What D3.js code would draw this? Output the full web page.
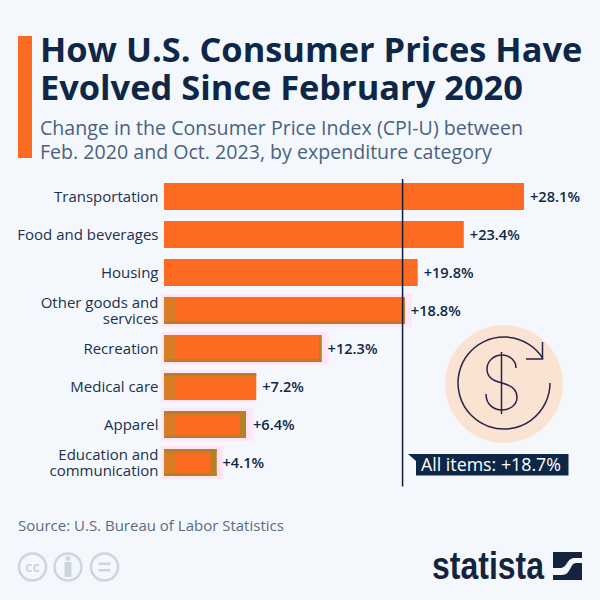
<!DOCTYPE html>
<html><head><meta charset="utf-8">
<script src="https://cdn.jsdelivr.net/npm/d3@7"></script>
<style>html,body{margin:0;padding:0;background:#f4f8fc}svg{display:block}text{font-family:"Open Sans",sans-serif}</style>
</head><body><svg id="c" width="600" height="600"></svg>
<script>
const categories=[["Transportation"],["Food and beverages"],["Housing"],["Other goods and","services"],["Recreation"],["Medical care"],["Apparel"],["Education and","communication"]];
const values=[28.1,23.4,19.8,18.8,12.3,7.2,6.4,4.1];
const valueLabels=["+28.1%","+23.4%","+19.8%","+18.8%","+12.3%","+7.2%","+6.4%","+4.1%"];
const allItems=18.7;
const titleLines=["How U.S. Consumer Prices Have","Evolved Since February 2020"];
const subtitleLines=["Change in the Consumer Price Index (CPI-U) between","Feb. 2020 and Oct. 2023, by expenditure category"];
const bandEdges=["","","","lbr","lbr","lt","ltbr","ltbr"];
const navy="#0f2747",orange="#fd6a21",olive="#b5802a";
const svg=d3.select("#c");
const xScale=d3.scaleLinear().domain([0,28.1]).range([164,524]);
const yScale=d3.scaleBand().domain(d3.range(values.length)).range([183,476]).paddingInner(11/38).paddingOuter(0);
const bh=yScale.bandwidth();

svg.append("rect").attr("x",18).attr("y",36).attr("width",14).attr("height",122).attr("fill",orange);
svg.selectAll(".t").data(titleLines).join("text").attr("class","t").attr("x",40).attr("y",(d,i)=>62+i*38)
 .attr("font-size",34.4).attr("font-weight",700).attr("fill",navy).text(d=>d);
svg.selectAll(".s").data(subtitleLines).join("text").attr("class","s").attr("x",40).attr("y",(d,i)=>135+i*24)
 .attr("font-size",19.6).attr("fill","#4a6280").text(d=>d);

const rows=svg.selectAll(".row").data(values).join("g").attr("class","row");
rows.each(function(v,i){
 const g=d3.select(this),t=yScale(i),x0=xScale(0),w=xScale(v)-x0,e=bandEdges[i];
 if(e) g.append("rect").attr("x",x0-3).attr("y",t-3).attr("width",w+(i==5?3:10)).attr("height",bh+6).attr("fill","#fde6f5");
 g.append("rect").attr("x",x0).attr("y",t).attr("width",w).attr("height",bh).attr("fill",orange);
 if(e){
  const band=(a,b,c,d,col)=>g.append("rect").attr("x",a).attr("y",b).attr("width",c).attr("height",d).attr("fill",col||olive);
  band(x0,t,12,bh,"#d87d26");
  if(e.includes("t")) band(x0,t,w,3.5);
  if(e.includes("b")) band(x0,t+bh-3,w,3);
  if(e.includes("r")) band(xScale(v)-(i>=6?6:2.5),t,i>=6?6:2.5,bh);
 }
 const lines=categories[i];
 const cy=t+bh/2;
 lines.forEach((l,j)=>g.append("text").attr("x",158.5).attr("y",cy+5.2+(j-(lines.length-1)/2)*16)
   .attr("text-anchor","end").attr("font-size",15).attr("fill","#22304d").text(l));
 g.append("text").attr("x",xScale(v)+(i==6?7:6)).attr("y",cy+5.3).attr("font-size",14.6).attr("font-weight",600)
   .attr("fill",navy).text(valueLabels[i]);
});

svg.append("line").attr("x1",xScale(allItems)-1).attr("x2",xScale(allItems)-1).attr("y1",179).attr("y2",486.5).attr("stroke","#141c38").attr("stroke-width",1.5);

// tag
svg.append("path").attr("d","M408 454H568.5V475.5H416V461Z").attr("fill",navy);
svg.append("text").attr("x",421).attr("y",470.5).attr("font-size",17.8).attr("font-weight",500).attr("fill","#fff").text("All items: +18.7%");

// icon
svg.append("circle").attr("cx",504).attr("cy",384).attr("r",59).attr("fill","#fae3d3");
const ic=svg.append("g").attr("fill","none").attr("stroke","#2a2348").attr("stroke-width",1.5);
const arc=d3.arc().innerRadius(46).outerRadius(46).startAngle(Math.PI*0.5).endAngle(Math.PI*2+1.01);
ic.append("path").attr("transform","translate(504,383)").attr("d",arc());
ic.append("path").attr("d","M526 359H542.5V342");
ic.append("path").attr("d","M501.5 352V414");
ic.append("path").attr("d","M516 368C516 360 509 355 502 355C494 355 487 361 487 369C487 378 494 381 502 383C510 385 517 389 517 397C517 405 510 410 502 410C494 410 486 405 486 394");

svg.append("text").attr("x",18).attr("y",531).attr("font-size",15).attr("fill","#5a6b85").text("Source: U.S. Bureau of Labor Statistics");

// licence icons
const lic=svg.append("g");
[32.5,68,104.5].forEach(cx=>lic.append("circle").attr("cx",cx).attr("cy",567).attr("r",13.5).attr("fill","none").attr("stroke","#cdd5de").attr("stroke-width",2.5));
lic.append("text").attr("x",32.5).attr("y",572).attr("text-anchor","middle").attr("font-size",14).attr("font-weight",700).attr("fill","#cdd5de").text("cc");
lic.append("circle").attr("cx",68).attr("cy",558.5).attr("r",2.5).attr("fill","#cdd5de");
lic.append("rect").attr("x",64.5).attr("y",562).attr("width",7).attr("height",15).attr("fill","#cdd5de");
lic.append("rect").attr("x",98.5).attr("y",562.5).attr("width",12).attr("height",2.5).attr("fill","#cdd5de");
lic.append("rect").attr("x",98.5).attr("y",569).attr("width",12).attr("height",2.5).attr("fill","#cdd5de");

// logo
svg.append("text").attr("x",432).attr("y",579).attr("font-size",38).attr("font-weight",700).attr("fill","#16233f").attr("textLength",112).attr("lengthAdjust","spacingAndGlyphs").style("font-family","'Liberation Sans Narrow','Liberation Sans',sans-serif").text("statista");
svg.append("rect").attr("x",553).attr("y",552).attr("width",29).attr("height",28).attr("fill","#16233f");
svg.append("path").attr("d","M553 568H560C568 568 566 558 575 558H582V563H576C570 563 571 575 562 575H553Z").attr("fill","#f4f8fc");
</script></body></html>
